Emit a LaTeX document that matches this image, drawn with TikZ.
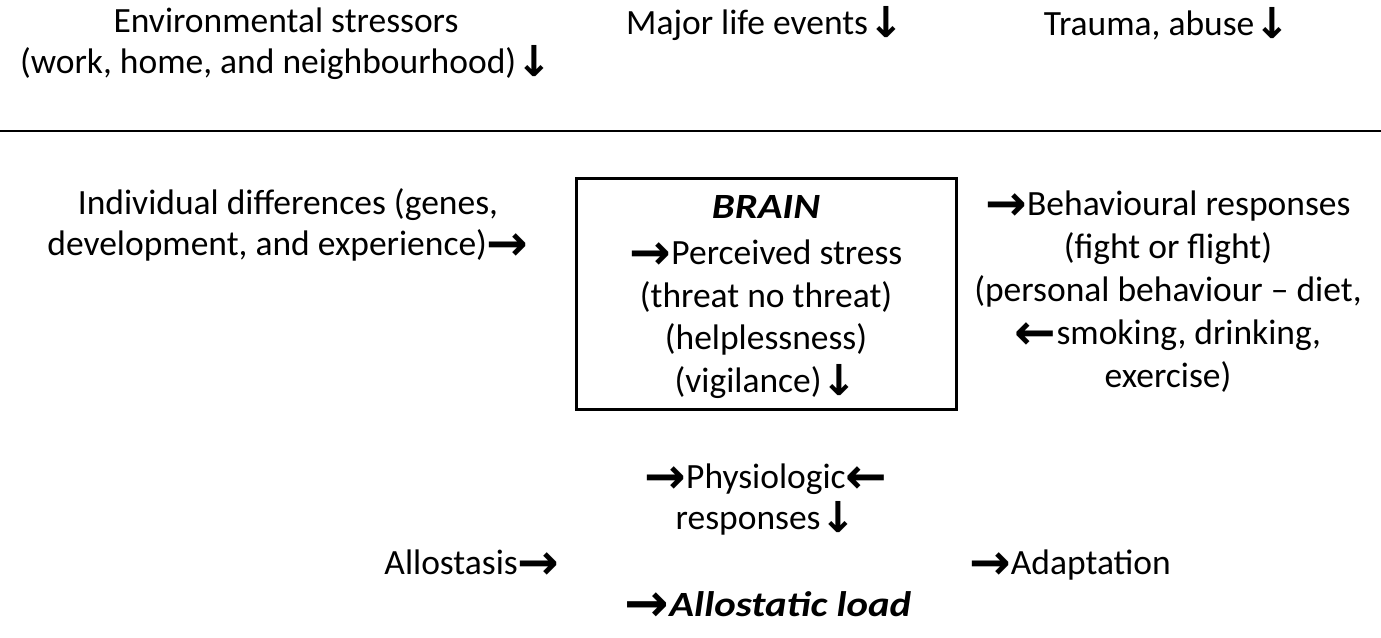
\documentclass[tikz,border=0pt]{standalone}
\usepackage{fontspec}
\setmainfont{Carlito}
\newfontfamily\arrfont{DejaVu Sans}
\newcommand{\glypharr}[1]{\raisebox{-5pt}{\scalebox{1.4}{\arrfont\bfseries #1}}}
\newcommand{\rarr}{\glypharr{→}}
\newcommand{\larr}{\glypharr{←}}
\newcommand{\darr}{\raisebox{-3pt}{\scalebox{1.2}{\arrfont\bfseries ↓}}}
\newcommand{\bigbi}[1]{\scalebox{1.15}[1]{\textbf{\textit{#1}}}}
\begin{document}
\begin{tikzpicture}[x=1pt,y=-1pt,
  txt/.style={align=center,inner sep=0pt,font=\fontsize{35.5}{41}\selectfont},
  boxed/.style={draw,line width=3pt,minimum width=380pt,minimum height=231pt,inner sep=0pt}]
\useasboundingbox (0,0) rectangle (1381,637);
\node[txt] (env) at (286,44) {Environmental stressors\\(work, home, and neighbourhood)\darr};
\node[txt] (major) at (765,24) {Major life events\darr};
\node[txt] (trauma) at (1167,24) {Trauma, abuse\darr};
\coordinate (l1) at (0,131);
\coordinate (l2) at (1381,131);
\draw[line width=1.5pt] (l1) -- (l2);
\node[txt] (indiv) at (288,225) {Individual differences (genes,\\development, and experience)\rarr};
\node[boxed] (box) at (766,293.5) {};
\node[txt,font=\fontsize{35.5}{42.5}\selectfont] (brain) at (766,297) {\bigbi{BRAIN}\\[4pt]\rarr Perceived stress\\(threat no threat)\\(helplessness)\\(vigilance)\darr};
\node[txt,font=\fontsize{35.5}{43}\selectfont] (behav) at (1168,291.5) {\rarr Behavioural responses\\(fight or flight)\\(personal behaviour -- diet,\\\larr smoking, drinking,\\exercise)};
\node[txt] (physio) at (766,500) {\rarr Physiologic\larr\\responses\darr};
\node[txt] (allo) at (472,565) {Allostasis\rarr};
\node[txt] (adapt) at (1070,565) {\rarr Adaptation};
\node[txt] (load) at (768,607) {\raisebox{-5pt}{\scalebox{1.5}{\arrfont\bfseries →}}\bigbi{Allostatic load}};
\end{tikzpicture}
\end{document}
